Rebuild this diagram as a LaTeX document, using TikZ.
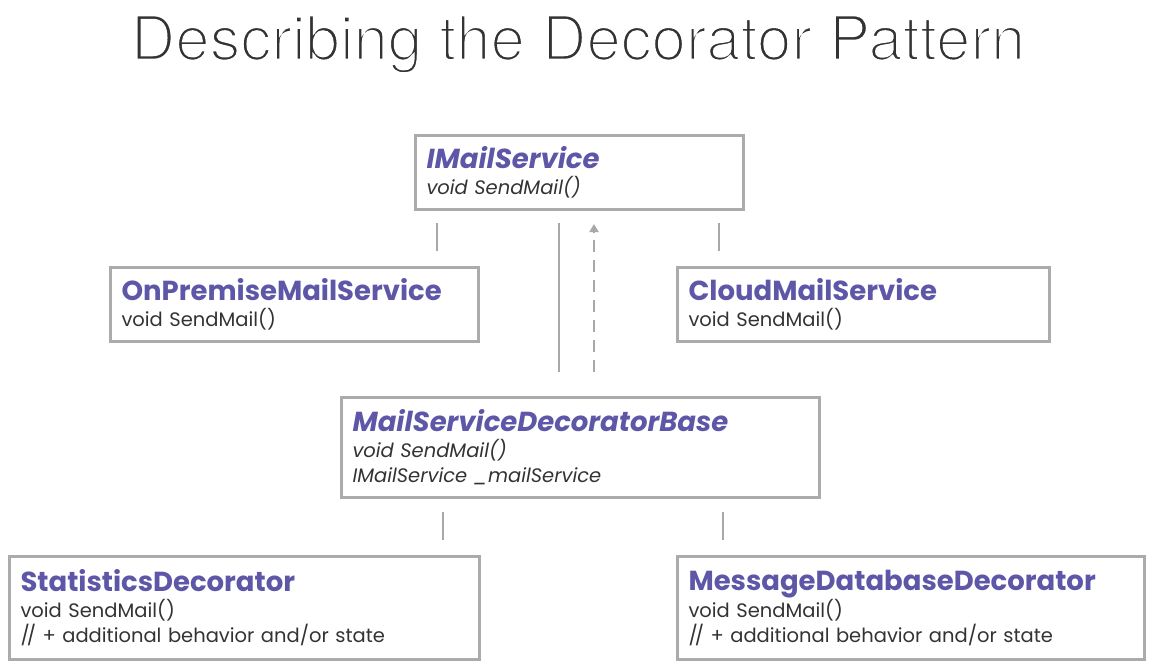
\documentclass[tikz,border=0pt]{standalone}
\usepackage{fontspec}
\setmainfont{Poppins}
\newfontfamily\titlefont{TeX Gyre Heros}
\usetikzlibrary{arrows.meta}
\definecolor{umlpurple}{HTML}{5E57A8}
\definecolor{boxgray}{HTML}{ABABAB}
\definecolor{linegray}{HTML}{A8A8A8}
\definecolor{txtgray}{HTML}{333333}
\newcommand{\clsname}[1]{{\fontsize{27.5}{30}\selectfont\bfseries\color{umlpurple}#1}\\[1pt]}
\newcommand{\ifcname}[1]{{\fontsize{27.5}{30}\selectfont\bfseries\itshape\color{umlpurple}#1}\\[1pt]}
\newcommand{\thintext}[1]{\special{pdf:code 2 Tr 1 1 1 RG 2.6 w}#1\special{pdf:code 0 Tr}}
\newcommand{\cmt}{/\kern-3pt/}
\begin{document}
\begin{tikzpicture}[x=1pt,y=-1pt,
  cls/.style={draw=boxgray, line width=3pt, anchor=north west, inner xsep=11pt, inner ysep=0pt,
    align=left, text=txtgray, font=\fontsize{19.5}{25}\selectfont},
  conn/.style={draw=linegray, line width=2.5pt},
  realize/.style={conn, dash pattern=on 12pt off 8pt, -{Triangle[length=8pt,width=9pt]}}
  ]
\useasboundingbox (0,0) rectangle (1156,670);
\node[font=\titlefont\fontsize{61.7}{66}\selectfont, text=txtgray, anchor=base] (title) at (578,60)
  {\thintext{Describing the Decorator Pattern}};

\node[cls, minimum width=328pt, minimum height=74pt, text width=306pt] (imail) at (414,134)
  {\ifcname{IMailService}\textit{void SendMail()}};
\node[cls, minimum width=368pt, minimum height=74pt, text width=346pt] (onprem) at (109,266)
  {\clsname{OnPremiseMailService}void SendMail()};
\node[cls, minimum width=372pt, minimum height=74pt, text width=350pt] (cloud) at (676,266)
  {\clsname{CloudMailService}void SendMail()};
\node[cls, minimum width=478pt, minimum height=100pt, text width=456pt] (base) at (340,396)
  {\ifcname{MailServiceDecoratorBase}\textit{void SendMail()}\\ \textit{IMailService \_mailService}};
\node[cls, minimum width=470pt, minimum height=103pt, text width=448pt] (stats) at (8,555)
  {\clsname{StatisticsDecorator}void SendMail()\\ \cmt{} + additional behavior and/or state};
\node[cls, minimum width=467pt, minimum height=103pt, text width=445pt] (msgdb) at (676,555)
  {\clsname{MessageDatabaseDecorator}void SendMail()\\ \cmt{} + additional behavior and/or state};

\coordinate (c1a) at (437,223); \coordinate (c1b) at (437,251);
\coordinate (c2a) at (719,223); \coordinate (c2b) at (719,251);
\coordinate (c3a) at (559,223); \coordinate (c3b) at (559,372);
\coordinate (c4a) at (594,372); \coordinate (c4b) at (594,224);
\coordinate (c5a) at (443,512); \coordinate (c5b) at (443,540);
\coordinate (c6a) at (723,512); \coordinate (c6b) at (723,540);
\draw[conn] (c1a) -- (c1b);
\draw[conn] (c2a) -- (c2b);
\draw[conn] (c3a) -- (c3b);
\draw[realize] (c4a) -- (c4b);
\draw[conn] (c5a) -- (c5b);
\draw[conn] (c6a) -- (c6b);
\end{tikzpicture}
\end{document}
